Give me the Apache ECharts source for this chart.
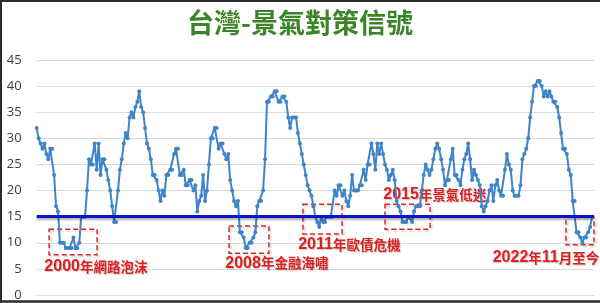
<!DOCTYPE html>
<html><head><meta charset="utf-8">
<script src="https://cdn.jsdelivr.net/npm/echarts@6/dist/echarts.min.js"></script>
<style>html,body{margin:0;padding:0;background:#fff}#c{width:600px;height:303px}</style>
</head><body><div id="c"></div>
<script>
// Monthly 景氣對策信號 scores (in order)
const scoresPart1 = [32,30,29,28,29,27,26,28,28,23,17,16,10,10,10,9,9,9,9,11,9,9,10,15,15,15,20,26,25,25,29,24,29,23,26,26,24,22,20,17,14,14,20,24,26,29,31,30,34,35,34,36,37,39];
const scoresPart2 = [36,35,32,29,28,26,23,23,22,20,18,20,19,23,23,24,24,27,28,28,23,23,24,21,21,22,22,20,21,16,18,19,23,18,20,25,30,30,32,32,28,29,29,27,26,27,22,20,18,17,18,12,12,11,9,9,10,10,11,12];
const scoresPart3 = [17,18,18,20,26,37,37,38,38,39,39,37,37,38,38,37,34,32,34,34,34,31,29,27,25,23,21,20,19,17,15,14,13,15,14,14,15,15,15,15,20,19,21,21,19,20,18,17,19,23,20,20,20,21,21,24,22,25,25,29];
const scoresPart4 = [27,24,29,27,29,27,25,24,22,23,24,22,18,17,16,14,14,14,15,15,14,16,17,17,17,20,23,25,24,23,24,26,28,29,28,26,24,21,22,22,26,28,23,23,22,21,24,26,27,29,26,22,24,23,22,21,17,16,17];
const scoresPart5 = [18,20,21,18,21,22,20,19,19,24,27,25,24,20,19,19,19,21,26,27,28,30,34,37,40,40,41,41,40,38,39,38,39,38,37,37,36,34,31,28,28,27,24,23,18,18,12,12,11,10,11,11,12,13,15];
const yTicks = [0,5,10,15,20,25,30,35,40,45];
const threshold = 15;
const titleText = '台灣-景氣對策信號';
// annotation boxes: [start index, end index, low value, high value, label]
const annoRanges = [
  [6.4, 31.2, 7.7, 12.6, '2000年網路泡沫'],
  [99.4, 120.0, 8.0, 13.2, '2008年金融海嘯'],
  [137.6, 157.8, 11.7, 17.4, '2011年歐債危機'],
  [180.0, 203.3, 12.6, 17.4, '2015年景氣低迷'],
  [273.5, 290.6, 9.6, 14.9, '2022年11月至今']
];
const labelPos = [[-4, 30, 'left'], [-3, 30, 'left'], [-4, 33, 'left'], [-1, -17, 'left'], [34, 33, 'right']];

const scores = [].concat(scoresPart1, scoresPart2, scoresPart3, scoresPart4, scoresPart5);
const lineData = scores.map((v, i) => [i, v]);

function richText(s) {
  return s.replace(/(\d+)|([^\d]+)/g, (m, d, c) => d ? '{d|' + d + '}' : '{c|' + c + '}');
}
const shadowTxt = {textShadowColor: 'rgba(0,0,0,0.22)', textShadowBlur: 1, textShadowOffsetX: 1, textShadowOffsetY: 1};
const richStyles = {
  d: Object.assign({fontSize: 16, fontWeight: 'bold', color: '#e0201e', fontFamily: 'Liberation Sans', lineHeight: 16}, shadowTxt),
  c: Object.assign({fontSize: 13.5, fontWeight: 'bold', color: '#e0201e', fontFamily: 'Noto Sans CJK TC', lineHeight: 16}, shadowTxt)
};

const chart = echarts.init(document.getElementById('c'), null, {renderer: 'canvas'});
chart.setOption({
  animation: false,
  backgroundColor: '#fff',
  title: {
    text: titleText, left: 'center', top: 4,
    textStyle: {fontSize: 27, fontWeight: 'bold', color: '#3b8526', fontFamily: 'Noto Sans CJK TC'}
  },
  grid: {left: 36.7, right: 6, top: 60, bottom: 8, containLabel: false},
  xAxis: {
    type: 'value', min: 0, max: scores.length,
    show: false, splitLine: {show: false}
  },
  yAxis: {
    type: 'value', min: yTicks[0], max: yTicks[yTicks.length - 1], interval: 5,
    axisLine: {show: false}, axisTick: {show: false},
    axisLabel: {fontSize: 13, color: '#404040', margin: 15, fontFamily: 'Open Sans'},
    splitLine: {lineStyle: {color: '#d9d9d9', width: 1}}
  },
  series: [{
    type: 'line',
    data: lineData,
    symbol: 'circle', symbolSize: 4,
    lineStyle: {color: '#3e84c8', width: 2},
    itemStyle: {color: '#3e84c8'},
    z: 3,
    markLine: {
      silent: true, symbol: 'none', label: {show: false},
      lineStyle: {color: '#0a14d0', width: 3, type: 'solid', shadowColor: 'rgba(0,0,0,0.3)', shadowBlur: 2, shadowOffsetY: 2},
      data: [{yAxis: threshold}]
    },
    markArea: {
      silent: true,
      itemStyle: {color: 'rgba(0,0,0,0)', borderColor: '#d42a2a', borderWidth: 1.5, borderType: [5, 3],
        shadowColor: 'rgba(0,0,0,0.22)', shadowBlur: 2, shadowOffsetX: 1.5, shadowOffsetY: 1.5},
      data: annoRanges.map((a, k) => [
        {xAxis: a[0], yAxis: a[3], label: {
          show: true, formatter: richText(a[4]), rich: richStyles,
          position: [labelPos[k][0], labelPos[k][1]], align: labelPos[k][2], verticalAlign: 'top'}},
        {xAxis: a[1], yAxis: a[2]}
      ])
    }
  }],
  graphic: [{
    type: 'polyline', silent: true,
    shape: {points: [[1, 303], [1, 1], [600, 1]]},
    style: {stroke: '#2b2b2b', lineWidth: 2, fill: null}
  }, {
    type: 'line', silent: true,
    shape: {x1: 0, y1: 301.5, x2: 600, y2: 301.5},
    style: {stroke: '#2b2b2b', lineWidth: 2.5}
  }]
});
</script></body></html>
